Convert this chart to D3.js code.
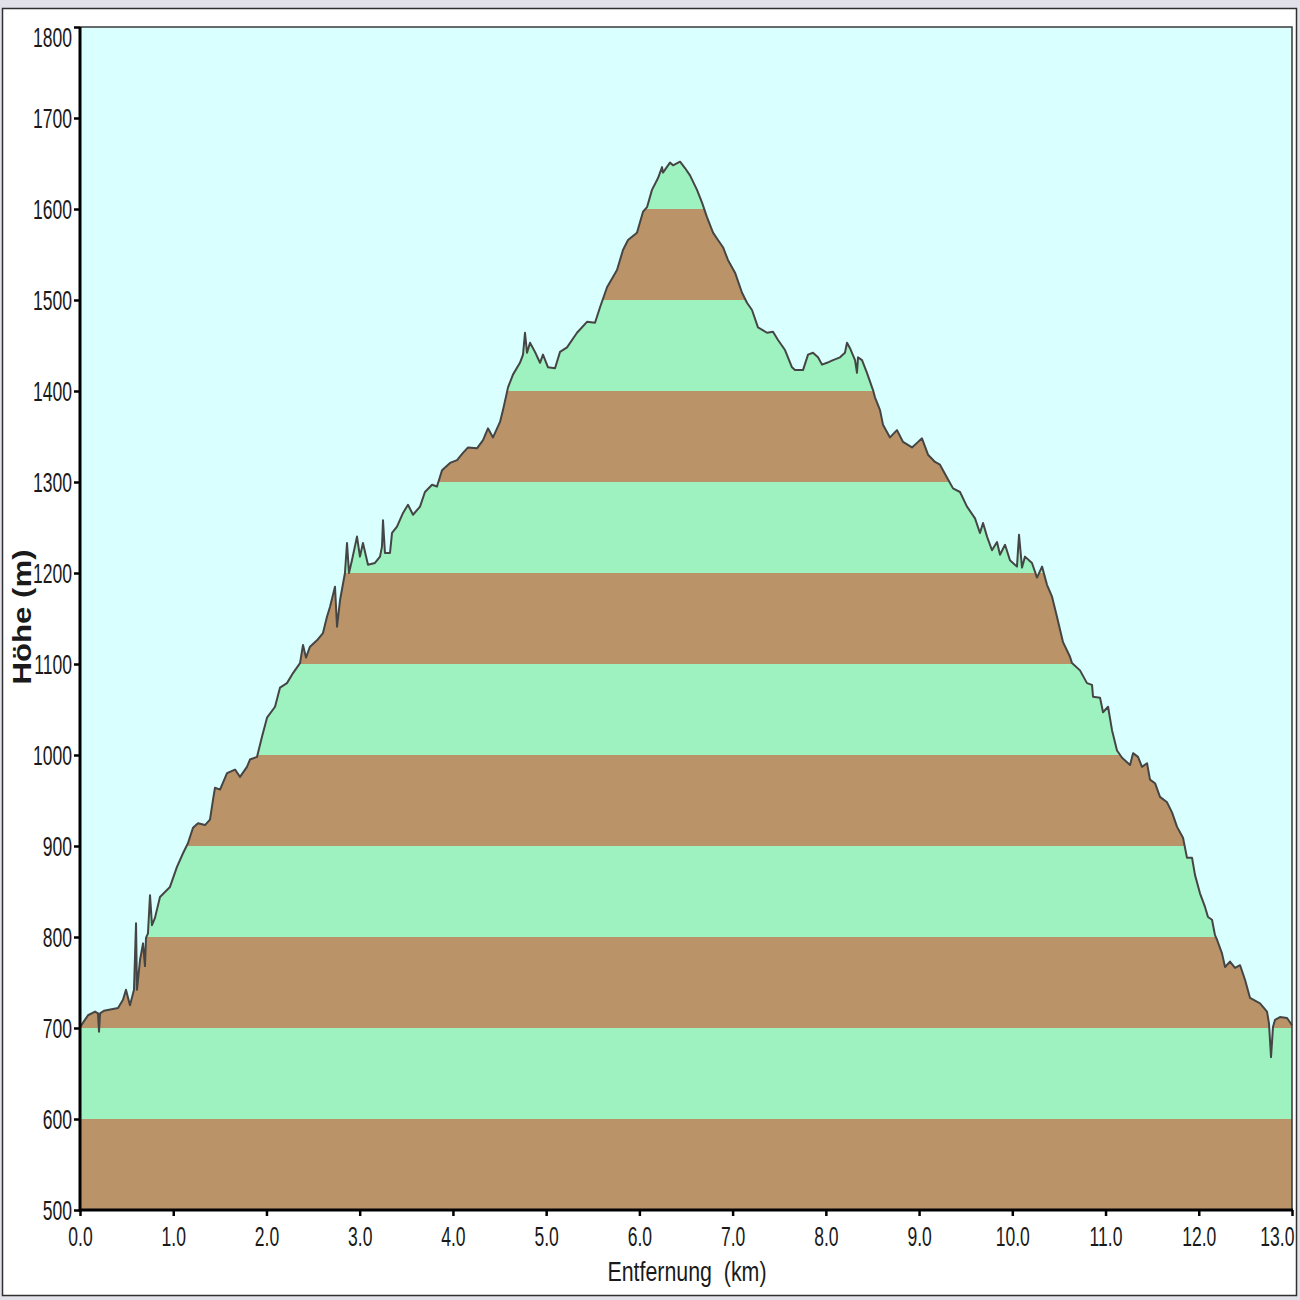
<!DOCTYPE html>
<html>
<head>
<meta charset="utf-8">
<script src="https://cdn.jsdelivr.net/npm/d3@7"></script>
<style>
  html, body { margin: 0; padding: 0; background: #ffffff; }
  svg { display: block; }
</style>
</head>
<body>
<svg id="chart" width="1300" height="1300"></svg>
<script>
// ---------- data ----------
const distKm = [0.000,0.086,0.161,0.193,0.204,0.215,0.257,0.408,0.461,0.493,0.536,0.579,0.601,0.611,0.644,0.676,0.697,0.708,0.729,0.751,0.772,0.804,0.858,0.965,1.040,1.105,1.158,1.212,1.266,1.341,1.394,1.427,1.448,1.502,1.577,1.663,1.716,1.791,1.823,1.899,1.952,2.006,2.092,2.145,2.220,2.285,2.360,2.392,2.424,2.467,2.542,2.606,2.649,2.682,2.735,2.757,2.789,2.842,2.864,2.885,2.917,2.971,3.003,3.035,3.089,3.164,3.218,3.239,3.250,3.271,3.325,3.347,3.400,3.465,3.518,3.572,3.647,3.700,3.776,3.829,3.883,3.969,4.044,4.108,4.162,4.258,4.323,4.376,4.430,4.505,4.537,4.591,4.644,4.719,4.752,4.773,4.795,4.827,4.880,4.934,4.966,5.020,5.095,5.149,5.224,5.331,5.438,5.524,5.578,5.653,5.760,5.824,5.878,5.974,6.039,6.082,6.135,6.200,6.243,6.253,6.328,6.361,6.436,6.489,6.543,6.618,6.672,6.725,6.790,6.843,6.897,6.950,7.026,7.101,7.154,7.208,7.272,7.369,7.433,7.487,7.562,7.637,7.669,7.755,7.809,7.862,7.916,7.959,8.012,8.077,8.152,8.205,8.227,8.259,8.313,8.334,8.345,8.388,8.441,8.506,8.527,8.581,8.613,8.688,8.763,8.828,8.924,8.978,9.031,9.096,9.171,9.224,9.299,9.364,9.439,9.514,9.600,9.653,9.686,9.729,9.782,9.836,9.868,9.922,9.975,10.050,10.072,10.104,10.136,10.211,10.265,10.319,10.372,10.426,10.479,10.544,10.619,10.640,10.726,10.801,10.855,10.866,10.941,10.973,11.027,11.070,11.123,11.177,11.263,11.295,11.348,11.391,11.445,11.477,11.531,11.584,11.660,11.713,11.767,11.831,11.874,11.928,11.960,12.013,12.067,12.099,12.142,12.174,12.196,12.249,12.282,12.335,12.389,12.443,12.496,12.550,12.657,12.732,12.753,12.775,12.796,12.818,12.871,12.947,13.000];
const elevM = [701,714,718,716,696,716,719,722,731,742,725,742,815,742,775,793,768,799,804,846,813,821,844,855,877,892,903,920,925,923,929,951,964,962,980,984,976,987,995,998,1020,1041,1053,1074,1079,1090,1101,1121,1107,1119,1126,1134,1152,1163,1185,1141,1170,1200,1233,1200,1214,1240,1218,1233,1209,1211,1218,1229,1258,1222,1222,1244,1251,1266,1275,1264,1273,1289,1297,1295,1313,1321,1324,1332,1338,1337,1346,1359,1349,1366,1379,1404,1418,1431,1440,1464,1442,1453,1443,1431,1440,1426,1425,1443,1448,1464,1476,1475,1492,1514,1533,1555,1566,1574,1597,1602,1621,1634,1646,1640,1651,1648,1652,1645,1637,1621,1607,1591,1574,1566,1558,1544,1530,1508,1497,1489,1470,1464,1465,1456,1445,1426,1423,1423,1440,1442,1437,1429,1431,1434,1437,1442,1453,1447,1434,1420,1437,1434,1420,1401,1393,1379,1363,1349,1357,1344,1338,1343,1348,1330,1322,1319,1305,1293,1289,1273,1260,1244,1255,1240,1225,1234,1220,1231,1214,1207,1242,1206,1218,1211,1195,1207,1187,1174,1152,1124,1108,1101,1093,1079,1077,1064,1063,1047,1053,1027,1005,997,989,1002,998,987,991,973,969,954,948,937,921,909,887,887,868,848,833,822,819,802,797,782,767,773,766,769,753,733,727,718,705,668,701,709,712,711,703];

const xTicks = [0,1,2,3,4,5,6,7,8,9,10,11,12,13];
const xTickLabels = ["0.0","1.0","2.0","3.0","4.0","5.0","6.0","7.0","8.0","9.0","10.0","11.0","12.0","13.0"];
const yTicks = [500,600,700,800,900,1000,1100,1200,1300,1400,1500,1600,1700,1800];
const bandEdges = [500,600,700,800,900,1000,1100,1200,1300,1400,1500,1600,1700,1800];

const xTitle = "Entfernung\u00a0\u00a0(km)";
const yTitle = "Höhe (m)";

// ---------- layout ----------
const svg = d3.select("#chart");
const pL = 80, pR = 1292, pT = 27, pB = 1210;
const x = d3.scaleLinear().domain([0, 13]).range([pL, pR]);
const y = d3.scaleLinear().domain([500, 1800]).range([pB, pT]);

const colBg = "#d9fffe", colGreen = "#9df2bf", colBrown = "#ba9468";

// outer frame
svg.append("rect").attr("x",0).attr("y",0).attr("width",1300).attr("height",1300).attr("fill","#e2e0e8");
svg.append("rect").attr("x",2.5).attr("y",8.5).attr("width",1294).attr("height",1287)
  .attr("fill","#ffffff").attr("stroke","#303030").attr("stroke-width",1.5);

// plot background
svg.append("rect").attr("x",pL).attr("y",pT).attr("width",pR-pL).attr("height",pB-pT).attr("fill",colBg);

const pts = distKm.map((d,i)=>[d, elevM[i]]);
const area = d3.area().x(d=>x(d[0])).y0(y(500)).y1(d=>y(d[1]));
const line = d3.line().x(d=>x(d[0])).y(d=>y(d[1]));

svg.append("defs").append("clipPath").attr("id","profileClip")
  .append("path").attr("d", area(pts));

const bandG = svg.append("g").attr("clip-path","url(#profileClip)");
bandEdges.slice(0,-1).forEach((lo,i)=>{
  const hi = bandEdges[i+1];
  bandG.append("rect")
    .attr("x", pL).attr("width", pR-pL)
    .attr("y", y(hi)).attr("height", y(lo)-y(hi))
    .attr("fill", (Math.floor(lo/100)%2===1) ? colBrown : colGreen);
});

svg.append("path").attr("d", line(pts)).attr("fill","none")
  .attr("stroke","#454545").attr("stroke-width",2).attr("stroke-linejoin","round");

// plot frame top/right
svg.append("path").attr("d",`M${pL},${pT}H${pR}V${pB}`).attr("fill","none")
  .attr("stroke","#3a3a3a").attr("stroke-width",1.5);

// ---------- axes ----------
const SX = 0.65, FS = 27;
const yAxis = svg.append("g").attr("transform",`translate(${pL},0)`)
  .call(d3.axisLeft(y).tickValues(yTicks).tickSize(6).tickSizeOuter(0).tickFormat(d3.format("d")));
yAxis.select(".domain").attr("stroke","#000").attr("stroke-width",3).attr("d",`M0,${pB+2}V${pT}`);
yAxis.selectAll(".tick line").attr("stroke","#000").attr("stroke-width",2.5);
yAxis.selectAll(".tick text")
  .attr("font-family","'Liberation Sans', Arial, sans-serif").attr("font-size",FS).attr("fill","#1a1a1a")
  .attr("x", -8/SX).attr("dy","0.36em")
  .attr("transform", d => d===1800 ? `translate(0,10) scale(${SX},1)` : `scale(${SX},1)`);

const xAxis = svg.append("g").attr("transform",`translate(0,${pB})`)
  .call(d3.axisBottom(x).tickValues(xTicks).tickSize(6).tickSizeOuter(0).tickFormat((d,i)=>xTickLabels[i]));
xAxis.select(".domain").attr("stroke","#000").attr("stroke-width",3).attr("d",`M${pL-1},0H${pR+1}`);
xAxis.selectAll(".tick line").attr("stroke","#000").attr("stroke-width",2.5);
xAxis.selectAll(".tick text")
  .attr("font-family","'Liberation Sans', Arial, sans-serif").attr("font-size",FS).attr("fill","#1a1a1a")
  .attr("y", 17).attr("dy","0.71em")
  .attr("text-anchor", d => d===13 ? "end" : "middle")
  .attr("x", d => d===13 ? 2/SX : 0)
  .attr("transform", `scale(${SX},1)`);

// ---------- titles ----------
svg.append("text").attr("x", 687).attr("y", 1281)
  .attr("text-anchor","middle")
  .attr("font-family","'Liberation Sans', Arial, sans-serif").attr("font-size",FS).attr("fill","#1a1a1a")
  .attr("textLength",159).attr("lengthAdjust","spacingAndGlyphs")
  .text(xTitle);

svg.append("g").attr("transform","translate(31,617) rotate(-90)")
  .append("text").attr("text-anchor","middle")
  .attr("font-family","'Liberation Sans', Arial, sans-serif").attr("font-weight","bold")
  .attr("font-size",20).attr("fill","#1a1a1a")
  .attr("transform","scale(1.56,1.3)")
  .text(yTitle);
</script>
</body>
</html>
